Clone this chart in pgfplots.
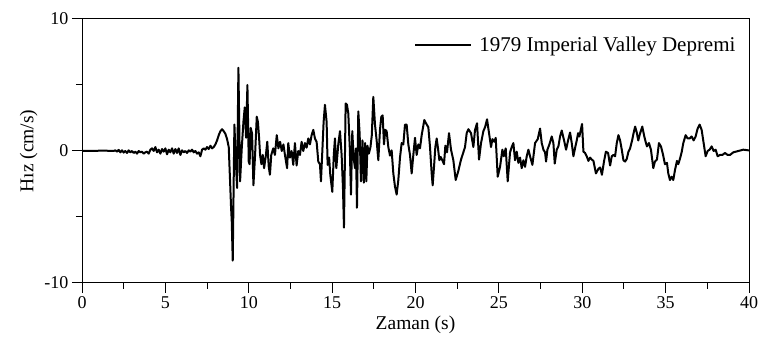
\documentclass[border=0pt]{standalone}
\usepackage{pgfplots}
\pgfplotsset{compat=1.18}
\usepackage{fontspec}
\setmainfont{Liberation Serif}
\pgfplotstableread{
t v
0 0
0.5 0
1.0 0.02
1.5 0.02
1.9 0.0
2.0 0.05
2.1 -0.05
2.2 0.08
2.3 -0.1
2.4 0.05
2.5 -0.12
2.6 0.0
2.7 -0.15
2.8 0.05
2.9 -0.1
3.0 0.0
3.1 -0.15
3.2 -0.05
3.3 -0.2
3.4 0.0
3.5 -0.1
3.6 -0.05
3.7 -0.2
3.8 -0.1
3.9 -0.05
4.0 -0.2
4.1 0.1
4.2 0.2
4.3 0.0
4.4 0.3
4.5 -0.1
4.6 0.1
4.7 -0.2
4.8 0.15
4.9 -0.05
5.0 0.2
5.1 -0.25
5.2 0.1
5.3 -0.1
5.4 0.2
5.5 -0.2
5.6 0.15
5.7 -0.15
5.8 0.2
5.9 -0.3
6.0 0.05
6.1 -0.1
6.2 0.0
6.3 -0.15
6.4 0.05
6.5 -0.05
6.6 0.1
6.7 -0.1
6.8 0.0
6.9 -0.2
7.0 -0.1
7.1 -0.4
7.2 0.1
7.3 0.2
7.4 0.1
7.5 0.3
7.6 0.15
7.7 0.4
7.8 0.2
7.9 0.3
8.0 0.5
8.1 0.8
8.2 1.2
8.3 1.5
8.4 1.65
8.5 1.5
8.6 1.3
8.7 0.9
8.8 0.3
8.88 -2.3
8.94 -4.3
8.98 -5.3
9.04 -8.3
9.1 -2
9.14 2.0
9.21 -0.3
9.3 -2.8
9.38 6.3
9.48 -2.3
9.58 0.2
9.68 2.2
9.76 3.3
9.84 1.0
9.92 5.0
10.0 -0.8
10.05 -1.0
10.12 1.75
10.2 1.3
10.28 -2.6
10.38 -0.3
10.48 2.6
10.55 2.2
10.62 1.0
10.68 -0.3
10.76 -1.0
10.84 -0.3
10.92 -1.3
11.03 -0.3
11.11 0.7
11.2 -1.2
11.27 -1.8
11.35 -0.3
11.47 0.2
11.57 -0.3
11.68 1.2
11.78 0.2
11.88 0.7
11.98 0.0
12.08 0.5
12.17 -0.3
12.3 -1.3
12.37 0.6
12.47 -0.5
12.57 0.0
12.67 -1.05
12.77 0.6
12.87 -1.1
12.97 0.0
13.07 -0.3
13.17 0.7
13.27 0.0
13.37 0.6
13.47 0.25
13.57 0.95
13.67 0.5
13.77 1.2
13.87 1.6
13.97 0.95
14.07 0.7
14.17 -0.8
14.27 -1.0
14.33 -2.3
14.42 0.2
14.49 2.2
14.57 3.5
14.67 2.2
14.73 -1.05
14.82 -0.5
14.89 -1.8
15.01 -3.1
15.1 -0.3
15.17 0.95
15.25 -1.3
15.37 0.5
15.47 1.5
15.57 -0.3
15.65 -2.8
15.71 -5.8
15.77 -0.3
15.81 3.6
15.89 3.5
15.97 2.85
16.06 0.2
16.13 -3.3
16.21 1.5
16.29 -0.5
16.37 -1.3
16.43 0.2
16.49 -4.3
16.57 3.0
16.65 1.3
16.73 -2.3
16.82 0.8
16.9 -2.4
16.98 0.6
17.05 -2.3
17.12 0.4
17.2 -0.2
17.3 0.3
17.38 1.2
17.47 4.1
17.57 2.0
17.67 0.8
17.77 -0.7
17.87 1.6
17.95 2.6
18.03 2.7
18.11 0.5
18.19 1.6
18.27 1.5
18.37 0.3
18.47 -0.35
18.57 0.05
18.67 -1.7
18.77 -2.7
18.87 -3.3
18.97 -2.2
19.07 -0.5
19.17 0.6
19.27 0.5
19.37 2.0
19.47 2.0
19.57 0.5
19.67 -0.3
19.77 -1.7
19.87 -0.3
19.97 1.0
20.07 -0.3
20.17 0.5
20.27 0.2
20.37 1.2
20.53 2.35
20.63 2.1
20.77 1.8
20.87 0.3
20.97 -1.7
21.03 -2.6
21.11 -1.2
21.19 0.3
21.27 0.95
21.35 0.2
21.43 -0.7
21.51 -0.45
21.61 -0.7
21.71 -1.0
21.79 0.4
21.89 -0.1
22.01 1.35
22.13 0.1
22.27 -0.7
22.41 -2.2
22.57 -1.5
22.73 -0.65
22.87 -0.1
22.97 0.3
23.07 1.35
23.17 1.65
23.33 1.35
23.47 0.3
23.57 1.6
23.69 2.1
23.81 -0.65
23.93 0.6
24.07 1.5
24.17 1.8
24.29 2.4
24.41 1.35
24.53 0.3
24.61 0.9
24.73 0.7
24.81 1.0
24.93 -1.95
25.07 -1.2
25.21 0.1
25.29 -0.4
25.41 0.2
25.53 -2.3
25.67 -0.1
25.77 0.3
25.87 0.6
25.97 -0.7
26.07 -0.05
26.17 -0.9
26.27 -0.5
26.37 -1.3
26.47 -0.7
26.57 -1.2
26.67 -0.4
26.77 0.1
26.87 -0.4
27.01 -1.05
27.17 0.6
27.33 0.9
27.47 1.7
27.57 0.6
27.67 0.1
27.77 -0.1
27.83 -0.8
27.91 0.1
28.03 0.5
28.17 1.1
28.27 0.6
28.35 -0.95
28.47 0.1
28.57 0.35
28.67 1.1
28.77 1.55
28.91 0.8
29.03 0.1
29.15 0.8
29.27 1.4
29.37 0.6
29.47 -0.4
29.59 0.35
29.67 0.8
29.75 1.35
29.83 1.1
29.91 1.6
29.99 2.05
30.07 -0.05
30.17 -0.15
30.27 -0.4
30.37 -0.75
30.47 -0.5
30.57 -0.65
30.67 -0.75
30.82 -1.7
30.97 -1.35
31.07 -1.25
31.18 -1.8
31.31 -0.75
31.42 -0.05
31.55 -0.15
31.67 -1.1
31.77 -0.4
31.87 -0.3
31.97 -0.4
32.07 0.6
32.17 1.2
32.27 0.8
32.37 0.1
32.47 -0.7
32.57 -0.8
32.67 -0.6
32.77 -0.05
32.87 0.2
32.99 0.8
33.07 1.3
33.17 1.85
33.26 1.45
33.36 0.8
33.46 1.3
33.6 1.85
33.72 1.1
33.8 0.7
33.88 0.35
34.0 0.6
34.12 0.1
34.26 -1.3
34.36 -0.8
34.48 -0.65
34.6 0.6
34.72 0.35
34.84 -0.25
34.96 -1.0
35.08 -0.9
35.16 -1.7
35.26 -2.2
35.36 -1.95
35.46 -2.2
35.56 -1.45
35.68 -0.75
35.76 -1.0
35.88 -0.5
35.96 -0.1
36.06 0.6
36.2 1.2
36.32 0.95
36.44 0.95
36.56 1.1
36.68 0.8
36.8 1.1
36.92 1.7
37.04 2.0
37.16 1.6
37.28 0.6
37.4 -0.4
37.52 0.0
37.64 0.1
37.76 0.35
37.88 0.0
38.0 0.1
38.12 -0.4
38.26 -0.3
38.4 -0.3
38.56 -0.15
38.72 -0.3
38.86 -0.3
39.06 -0.1
39.36 0.0
39.66 0.1
39.96 0.05
40 0.05
}\quake
\begin{document}
\begin{tikzpicture}[x=1pt,y=1pt]
\path[use as bounding box] (0,0) rectangle (761,356);
\begin{axis}[
  at={(82pt,73pt)}, anchor=south west,
  scale only axis, width=667pt, height=264pt,
  xmin=0, xmax=40, ymin=-10, ymax=10,
  xtick={0,5,...,40}, xticklabels={0,5,10,15,20,25,30,35,40},
  ytick={-10,0,10}, yticklabels={-10,0,10},
  minor x tick num=1, minor y tick num=1,
  tick align=outside, xtick pos=left, ytick pos=left,
  major tick length=10pt, minor tick length=6pt,
  axis line style={line width=1pt},
  every tick/.style={black, line width=1pt},
  ticklabel style={font=\fontsize{18}{20}\selectfont},
  xlabel={Zaman (s)}, ylabel={Hız (cm/s)},
  label style={font=\fontsize{19.5}{22}\selectfont},
  legend style={draw=none, fill=none, inner sep=0pt,
    at={(0.983,0.9015)}, anchor=east,
    font=\fontsize{21}{23}\selectfont},
  legend image code/.code={\draw[#1] (0pt,0pt) -- (56pt,0pt); \path (61pt,0pt);},
]
\addplot[black, line width=2pt, line join=round] table[x=t,y=v] {\quake};
\addlegendentry{1979 Imperial Valley Depremi}
\end{axis}
\end{tikzpicture}
\end{document}
